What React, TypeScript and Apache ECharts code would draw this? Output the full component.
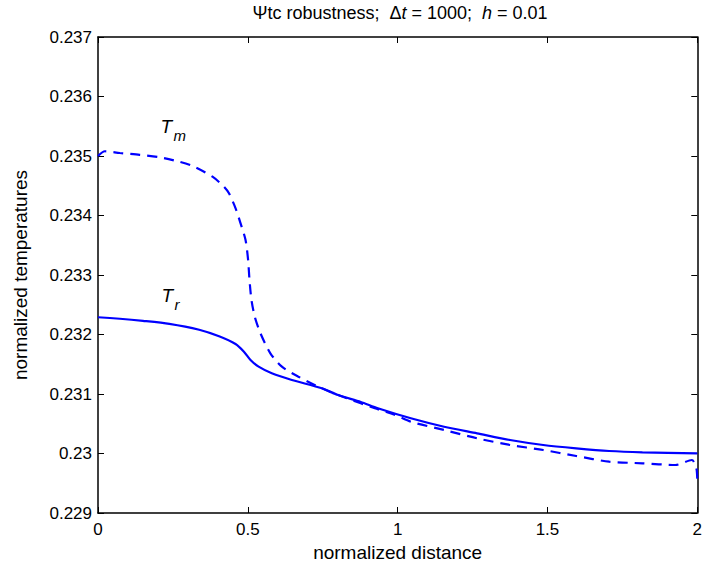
import React, { useEffect, useRef } from "react";
import * as echarts from "echarts";

// Tm (dashed) : [normalized distance, temperature]
const tmX = [0, 0.023, 0.073, 0.139, 0.205, 0.2715, 0.3156, 0.3821, 0.4205, 0.4371, 0.4592, 0.4758, 0.4924, 0.501, 0.5056, 0.5122, 0.5232, 0.5421, 0.5752, 0.6137, 0.6689, 0.7467, 0.83, 0.924, 0.99, 1.044, 1.155, 1.265, 1.375, 1.486, 1.596, 1.706, 1.817, 1.927, 1.982, 1.997, 2.0];
const tmY = [0.23500, 0.23508, 0.23505, 0.23502, 0.23498, 0.234904, 0.234832, 0.234652, 0.234484, 0.234373, 0.234121, 0.233869, 0.233588, 0.233252, 0.232916, 0.23258, 0.232299, 0.23202, 0.231684, 0.231459, 0.231291, 0.231096, 0.23093, 0.23076, 0.23065, 0.230534, 0.230395, 0.230255, 0.230143, 0.230059, 0.229958, 0.229862, 0.229835, 0.229807, 0.229891, 0.22975, 0.22956];

// Tr (solid)
const trX = [0, 0.073, 0.15, 0.238, 0.3377, 0.404, 0.459, 0.487, 0.509, 0.536, 0.58, 0.647, 0.747, 0.801, 0.877, 0.934, 1.044, 1.155, 1.265, 1.375, 1.486, 1.596, 1.706, 1.817, 2.0];
const trY = [0.23229, 0.232265, 0.23223, 0.23218, 0.23208, 0.23197, 0.23184, 0.231711, 0.231571, 0.231459, 0.231348, 0.231235, 0.231096, 0.230983, 0.230866, 0.23076, 0.230592, 0.23045, 0.230339, 0.230227, 0.230143, 0.230087, 0.230042, 0.23002, 0.230003];

const xTicks = { min: 0, max: 2, interval: 0.5 };
const yTicks = { min: 0.229, max: 0.237, interval: 0.001 };

// annotation anchors (data coords): [x, y, subscript]
const curveLabels: [number, number, string][] = [
  [0.209, 0.23566, "m"],
  [0.212, 0.23282, "r"],
];

const FONT = "'Liberation Sans', Arial, Helvetica, sans-serif";

export default function App() {
  const ref = useRef<HTMLDivElement>(null);
  useEffect(() => {
    if (!ref.current) return;
    const chart = echarts.init(ref.current, undefined, { renderer: "svg" });
    const axisLine = { show: true, onZero: false, lineStyle: { color: "#000", width: 1.5 } };
    const tick = { show: true, inside: true, length: 6, lineStyle: { color: "#000", width: 1 } };
    chart.setOption({
      animation: false,
      backgroundColor: "#fff",
      grid: { left: 98, right: 3, top: 37, bottom: 57, containLabel: false },
      xAxis: [
        {
          type: "value", ...xTicks, position: "bottom",
          axisLine, axisTick: tick, splitLine: { show: false },
          axisLabel: { color: "#000", fontSize: 17, fontFamily: FONT, margin: 8, formatter: (v: number) => String(v) },
          name: "normalized distance", nameLocation: "middle", nameGap: 30,
          nameTextStyle: { color: "#000", fontSize: 19, fontFamily: FONT },
        },
        {
          type: "value", ...xTicks, position: "top",
          axisLine, axisTick: tick, splitLine: { show: false }, axisLabel: { show: false },
        },
      ],
      yAxis: [
        {
          type: "value", ...yTicks, position: "left",
          axisLine, axisTick: tick, splitLine: { show: false },
          axisLabel: { color: "#000", fontSize: 17, fontFamily: FONT, margin: 6, formatter: (v: number) => String(Number(v.toFixed(3))) },
          name: "normalized temperatures", nameLocation: "middle", nameGap: 68,
          nameTextStyle: { color: "#000", fontSize: 19, fontFamily: FONT },
        },
        {
          type: "value", ...yTicks, position: "right",
          axisLine, axisTick: tick, splitLine: { show: false }, axisLabel: { show: false },
        },
      ],
      series: [
        {
          type: "line", name: "Tm", data: tmX.map((x, i) => [x, tmY[i]]),
          showSymbol: false, smooth: 0.25, clip: true,
          lineStyle: { color: "#0000ff", width: 2.2, type: [10, 7] },
        },
        {
          type: "line", name: "Tr", data: trX.map((x, i) => [x, trY[i]]),
          showSymbol: false, smooth: 0.25, clip: true,
          lineStyle: { color: "#0000ff", width: 2.2, type: "solid" },
        },
      ],
    });
    const graphics: any[] = [
      {
        type: "text", x: 400, y: 13,
        style: {
          text: "{n|Ψtc robustness;  Δ}{i|t}{n| = 1000;  }{i|h}{n| = 0.01}",
          align: "center", verticalAlign: "middle",
          rich: {
            n: { fontSize: 18, fontFamily: FONT, fill: "#000" },
            i: { fontSize: 18, fontFamily: FONT, fontStyle: "italic", fill: "#000" },
          },
        },
      },
    ];
    curveLabels.forEach(([x, y, sub]) => {
      const p = chart.convertToPixel({ gridIndex: 0 }, [x, y]) as number[];
      graphics.push({
        type: "text", x: p[0], y: p[1],
        style: { text: "T", fontSize: 19, fontStyle: "italic", fontFamily: FONT, fill: "#000", verticalAlign: "top" },
      });
      graphics.push({
        type: "text", x: p[0] + 13, y: p[1] + 11,
        style: { text: sub, fontSize: 15, fontStyle: "italic", fontFamily: FONT, fill: "#000", verticalAlign: "top" },
      });
    });
    chart.setOption({ graphic: graphics });
    return () => chart.dispose();
  }, []);
  return <div ref={ref} style={{ width: 705, height: 570, position: "absolute", left: 0, top: 0 }} />;
}
